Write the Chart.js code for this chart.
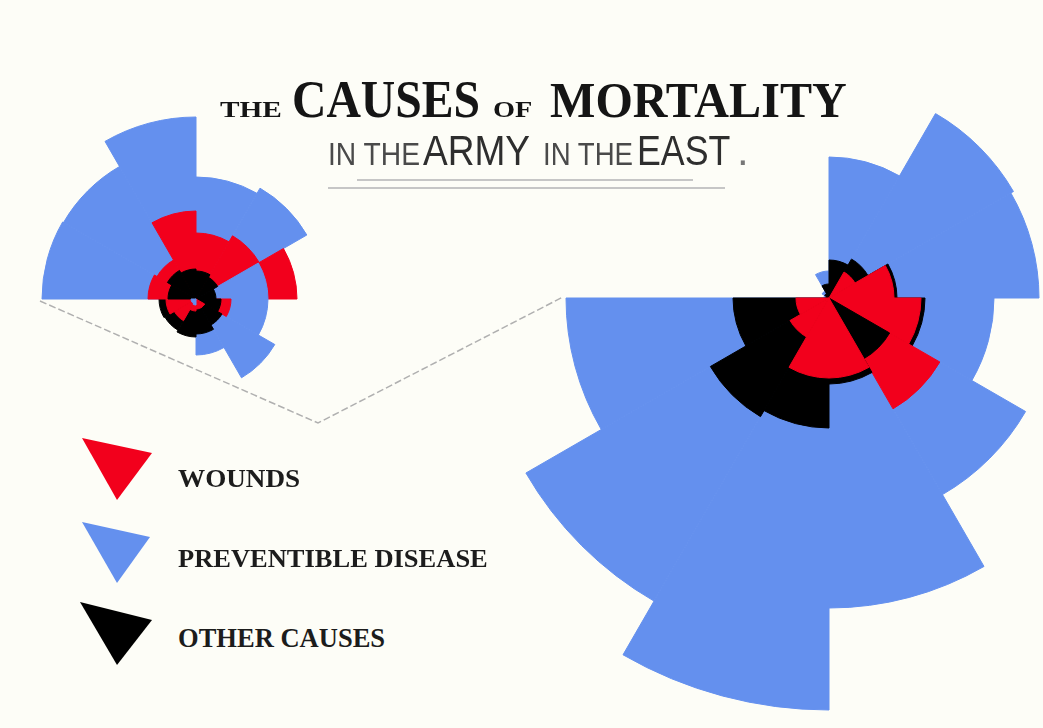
<!DOCTYPE html>
<html>
<head>
<meta charset="utf-8">
<script src="https://cdn.jsdelivr.net/npm/chart.js@4.4.1/dist/chart.umd.min.js"></script>
<style>
html, body { margin: 0; padding: 0; background: #fdfdf7; width: 1043px; height: 728px; overflow: hidden; position: relative; }
canvas, svg { position: absolute; }
#left { left: -4px; top: 99px; }
#right { left: 409px; top: -122px; }
.w { position: absolute; white-space: nowrap; transform-origin: 0 0; line-height: 1; }
.w i { display: inline-block; width: 0; height: 0; }
</style>
</head>
<body>
<svg width="1043" height="728" style="left:0;top:0">
  <line x1="357" y1="180" x2="693" y2="180" stroke="#c6c6c6" stroke-width="2"/>
  <line x1="328" y1="188" x2="725" y2="188" stroke="#c6c6c6" stroke-width="2"/>
  <polyline points="40,301 318,423 563,297" fill="none" stroke="#b0b0b0" stroke-width="1.5" stroke-dasharray="7 3"/>
  <polygon points="82,438 152,453 117,500" fill="#f2001c"/>
  <polygon points="82,522 150,537 117,583" fill="#6490ee"/>
  <polygon points="80,602 152,620 117,665" fill="#000"/>
</svg>
<canvas id="left" width="400" height="400"></canvas>
<canvas id="right" width="840" height="840"></canvas>
<script>
// months, clockwise from 9 o'clock
const monthsRight = ['Apr 1854', 'May 1854', 'Jun 1854', 'Jul 1854', 'Aug 1854', 'Sep 1854',
                     'Oct 1854', 'Nov 1854', 'Dec 1854', 'Jan 1855', 'Feb 1855', 'Mar 1855'];
const monthsLeft = ['Apr 1855', 'May 1855', 'Jun 1855', 'Jul 1855', 'Aug 1855', 'Sep 1855',
                    'Oct 1855', 'Nov 1855', 'Dec 1855', 'Jan 1856', 'Feb 1856', 'Mar 1856'];

// wedge sizes (same units for both roses)
const rightDisease = [5, 8, 27, 141, 213, 210, 165, 227, 310, 412, 350, 263];
const rightWounds  = [0, 0, 0, 0, 30, 65, 92, 128, 80, 80, 45, 33];
const rightOther   = [3, 5, 14, 38, 45, 68, 96, 70, 86, 130, 137, 96];

const leftDisease = [154, 153, 182, 122, 128, 72, 72, 91, 56, 6, 5, 5];
const leftWounds  = [48, 45, 88, 66, 73, 101, 35, 10, 10, 12, 25, 30];
const leftOther   = [28, 33, 30, 28, 25, 20, 25, 30, 35, 38, 36, 37];

const causeColors = ['#f2001c', '#6490ee', '#000000']; // wounds, disease, other

// each month: biggest wedge at the back, smallest on top
function layers(series) {
  const out = [0, 1, 2].map(() => ({ data: [], backgroundColor: [] }));
  for (let i = 0; i < series[0].length; i++) {
    const idx = [0, 1, 2].sort((a, b) => series[a][i] - series[b][i]);
    idx.forEach((s, k) => {
      out[k].data.push(series[s][i]);
      out[k].backgroundColor.push(causeColors[s]);
    });
  }
  return out.map(l => ({
    data: l.data,
    backgroundColor: l.backgroundColor,
    borderColor: l.backgroundColor,
    borderWidth: 1
  }));
}

function rose(id, labels, series, max) {
  return new Chart(document.getElementById(id), {
    type: 'polarArea',
    data: { labels: labels, datasets: layers(series) },
    options: {
      responsive: false,
      animation: false,
      layout: { padding: 0 },
      plugins: { legend: { display: false }, tooltip: { enabled: false } },
      scales: { r: { display: false, min: 0, max: max, startAngle: 270 } }
    }
  });
}

rose('left', monthsLeft, [leftWounds, leftDisease, leftOther], 200);
rose('right', monthsRight, [rightWounds, rightDisease, rightOther], 420);

// text
const serif = 'bold {s}px "Liberation Serif", "Times New Roman", serif';
const sans = '{s}px "Liberation Sans", Arial, sans-serif';
const words = [
  ['THE', 220, 117, 62, 15, serif, 0.66, '#151515'],
  ['CAUSES', 292, 117, 188, 35, serif, 0.66, '#151515'],
  ['OF', 493, 117, 40, 15, serif, 0.66, '#151515'],
  ['MORTALITY', 550, 117, 297, 34, serif, 0.66, '#151515'],
  ['IN THE', 328, 165, 92, 22, sans, 0.716, '#4a4a4a'],
  ['ARMY', 423, 165, 107, 30, sans, 0.716, '#2e2e2e'],
  ['IN THE', 543, 165, 90, 22, sans, 0.716, '#4a4a4a'],
  ['EAST', 637, 165, 93, 30, sans, 0.716, '#2e2e2e'],
  ['.', 737, 165, 0, 30, sans, 0.716, '#777'],
  ['WOUNDS', 178, 487, 122, 17, serif, 0.66, '#1c1c1c'],
  ['PREVENTIBLE DISEASE', 178, 567, 310, 17, serif, 0.66, '#1c1c1c'],
  ['OTHER CAUSES', 178, 647, 207, 18, serif, 0.66, '#1c1c1c']
];
words.forEach(([t, x, base, w, cap, font, ratio, color]) => {
  const el = document.createElement('span');
  el.className = 'w';
  el.style.font = font.replace('{s}', (cap / ratio).toFixed(1));
  el.style.color = color;
  el.style.left = x + 'px';
  el.textContent = t;
  const mark = document.createElement('i');
  el.appendChild(mark);
  document.body.appendChild(el);
  el.style.top = (base - mark.offsetTop) + 'px';
  if (w) el.style.transform = 'scaleX(' + (w / el.offsetWidth) + ')';
});
</script>
</body>
</html>
